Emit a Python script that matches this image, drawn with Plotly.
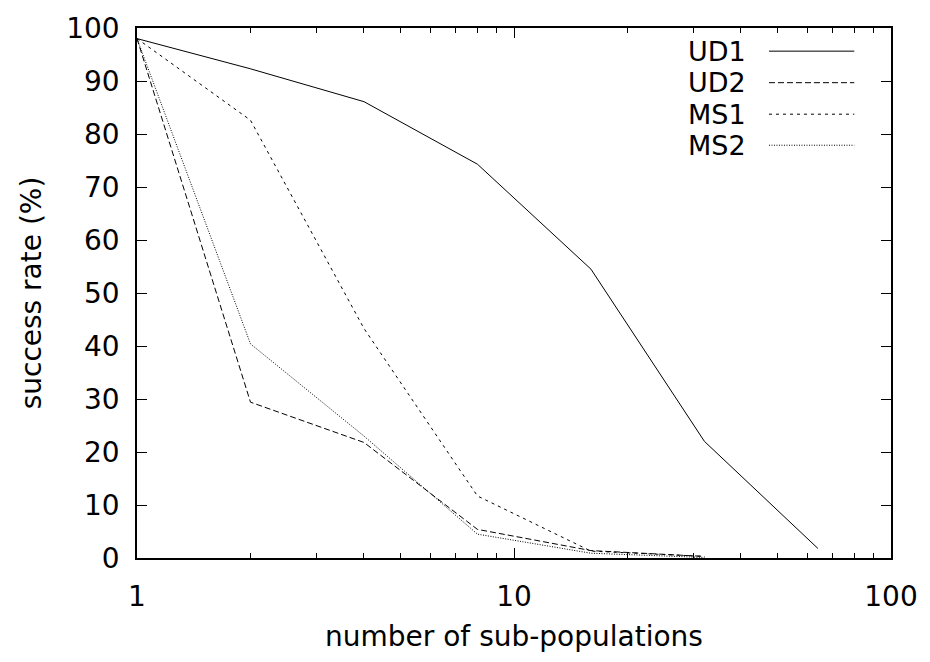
import plotly.graph_objects as go

x_vals = [1, 2, 4, 8, 16, 32, 64]
ud1 = [98.0, 92.3, 86.1, 74.3, 54.5, 22.0, 1.8]
ud2 = [98.0, 29.4, 21.8, 5.4, 1.4, 0.3]
ms1 = [98.0, 82.6, 43.3, 11.7, 1.3, 0.3]
ms2 = [98.0, 40.4, 23.0, 4.5, 0.9, 0.1]

names = ["UD1", "UD2", "MS1", "MS2"]
series = [ud1, ud2, ms1, ms2]
dashes = ["solid", "6px,3px", "3px,4px", "1px,1.5px"]

FONT = "DejaVu Sans, Liberation Sans, sans-serif"
FS = 28
fig = go.Figure()
for n, s, d in zip(names, series, dashes):
    fig.add_trace(go.Scatter(x=x_vals[:len(s)], y=s, mode="lines", name=n,
                             line=dict(color="black", width=1, dash=d),
                             showlegend=False))

# custom legend (text right-aligned, sample to the right)
L, R, T, B = 137, 897, 20, 558
def px(x): return (x - L) / (R - L)
def py(y): return (B - y) / (B - T)
rows = [43.5, 75.5, 107.5, 139]
for n, d, yy in zip(names, dashes, rows):
    fig.add_annotation(x=px(753), y=py(yy), xref="paper", yref="paper", text=n,
                       showarrow=False, xanchor="right", yanchor="middle",
                       font=dict(family=FONT, size=27, color="black"))
    fig.add_shape(type="line", xref="paper", yref="paper",
                  x0=px(774), x1=px(860), y0=py(yy), y1=py(yy),
                  line=dict(color="black", width=1, dash=d))

minor_vals = [v * m for m in (1, 10) for v in range(2, 10)]
fig.update_layout(
    width=930, height=662,
    margin=dict(l=L, r=930 - R, t=T, b=662 - B),
    paper_bgcolor="white", plot_bgcolor="white",
    font=dict(family=FONT, size=FS, color="black"),
    xaxis=dict(type="log", range=[0, 2], tickvals=[1, 10, 100], ticktext=["1", "10", "100"],
               ticks="inside", ticklen=10, tickwidth=1, tickcolor="black",
               minor=dict(tickvals=minor_vals, ticks="inside", ticklen=5, tickwidth=1, tickcolor="black", showgrid=False),
               showline=True, linecolor="black", linewidth=1.5, mirror="ticks",
               showgrid=False, zeroline=False, ticklabelstandoff=13,
               title=dict(text="number of sub-populations", standoff=14, font=dict(size=FS))),
    yaxis=dict(range=[0, 100], tickvals=list(range(0, 101, 10)),
               ticks="inside", ticklen=10, tickwidth=1, tickcolor="black",
               showline=True, linecolor="black", linewidth=1.5, mirror="ticks",
               showgrid=False, zeroline=False, ticklabelstandoff=10,
               title=dict(text="success rate (%)", standoff=16, font=dict(size=FS))),
)
fig.write_html("out.html")
